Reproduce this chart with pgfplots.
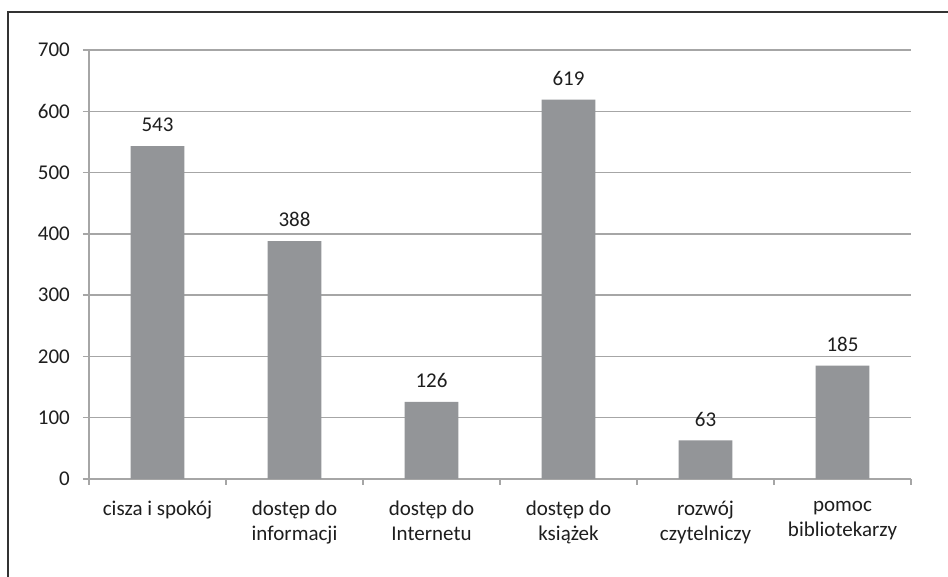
\documentclass[border=0pt]{standalone}
\usepackage{pgfplots}
\pgfplotsset{compat=1.18}
\usepackage{fontspec}
\setmainfont{Carlito}
\definecolor{barc}{HTML}{939598}
\definecolor{gridc}{HTML}{A6A6A6}
\definecolor{txt}{HTML}{1E1E1E}
\begin{document}
\begin{tikzpicture}
\useasboundingbox (-89pt,-98pt) rectangle (859pt,479pt);
\fill[white] (-89pt,-98pt) rectangle (859pt,479pt);
\begin{axis}[
  scale only axis,
  width=822pt, height=429pt,
  anchor=south west, at={(0pt,0pt)},
  ymin=0, ymax=700,
  xmin=-0.5, xmax=5.5,
  ytick={0,100,...,700},
  xtick={-0.5,0.5,...,5.5},
  xticklabels={cisza i spokój, dostęp do\\informacji, dostęp do\\Internetu, dostęp do\\książek, rozwój\\czytelniczy, pomoc\\bibliotekarzy},
  x tick label as interval,
  axis x line*=bottom,
  axis y line*=left,
  axis line style={draw=gridc, line width=1.4pt, -},
  tick style={draw=gridc, line width=1.4pt},
  tick align=outside,
  major tick length=6pt,
  ymajorgrids,
  grid style={draw=gridc, line width=1.4pt},
  /pgf/number format/assume math mode=true,
  tick label style={font=\fontsize{21}{25}\selectfont, text=txt},
  yticklabel style={anchor=east, inner sep=0pt, xshift=-13pt},
  xticklabel style={anchor=north, inner sep=0pt, yshift=-16pt, align=center},
  ybar,
  bar width=0.394,
  nodes near coords,
  nodes near coords style={font=\fontsize{21}{25}\selectfont, text=txt, anchor=south, inner sep=0pt, yshift=14pt},
  clip=false,
]
\addplot[fill=barc, draw=none] coordinates {(0,543) (1,388) (2,126) (3,619) (4,63) (5,185)};
\end{axis}
\draw[line width=1.5pt, draw=black!80] (-81pt,-98pt) -- (-81pt,467pt) -- (859pt,467pt);
\end{tikzpicture}
\end{document}
